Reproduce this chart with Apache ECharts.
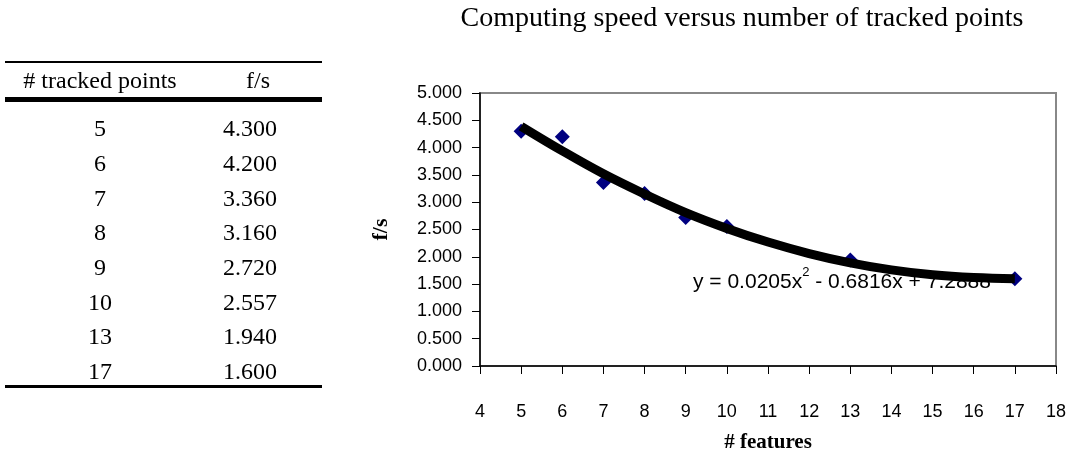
<!DOCTYPE html>
<html>
<head>
<meta charset="utf-8">
<script src="https://cdn.jsdelivr.net/npm/echarts@6/dist/echarts.min.js"></script>
<style>
html,body{margin:0;padding:0;background:#fff;}
#chart{width:1077px;height:454px;}
</style>
</head>
<body>
<div id="chart"></div>
<script>
// ---- data ----
var trackedPoints = [5, 6, 7, 8, 9, 10, 13, 17];
var fps = [4.300, 4.200, 3.360, 3.160, 2.720, 2.557, 1.940, 1.600];
var fpsText = ['4.300', '4.200', '3.360', '3.160', '2.720', '2.557', '1.940', '1.600'];
var tableHeader = ['# tracked points', 'f/s'];
// trendline values at integer x
var trendX = [5, 6, 7, 8, 9, 10, 11, 12, 13, 14, 15, 16, 17];
var trendY = [4.39, 3.94, 3.52, 3.15, 2.81, 2.52, 2.27, 2.06, 1.89, 1.76, 1.67, 1.62, 1.60];
var titleText = 'Computing speed versus number of tracked points';
var xName = '# features';
var yName = 'f/s';
var eqMain1 = 'y = 0.0205x';
var eqSup = '2';
var eqMain2 = ' - 0.6816x + 7.2888';

var chart = echarts.init(document.getElementById('chart'), null, {renderer: 'canvas'});

var serif = '"Liberation Serif", "DejaVu Serif", serif';
var sans = '"Liberation Sans", Arial, sans-serif';

// table graphics
var tableLeft = 5, tableRight = 322;
var col1 = 100, col2 = 250;
var rowTop = 130, rowStep = 34.7;
var g = [];
g.push({type: 'rect', shape: {x: tableLeft, y: 61, width: tableRight - tableLeft, height: 2}, style: {fill: '#000'}});
g.push({type: 'rect', shape: {x: tableLeft, y: 97, width: tableRight - tableLeft, height: 5}, style: {fill: '#000'}});
g.push({type: 'text', x: col1, y: 82, style: {text: tableHeader[0], font: '24px ' + serif, fill: '#000', align: 'center', verticalAlign: 'middle'}});
g.push({type: 'text', x: col2 + 8, y: 82, style: {text: tableHeader[1], font: '24px ' + serif, fill: '#000', align: 'center', verticalAlign: 'middle'}});
for (var i = 0; i < trackedPoints.length; i++) {
  var yy = rowTop + rowStep * i;
  g.push({type: 'text', x: col1, y: yy, style: {text: String(trackedPoints[i]), font: '24px ' + serif, fill: '#000', align: 'center', verticalAlign: 'middle'}});
  g.push({type: 'text', x: col2, y: yy, style: {text: fpsText[i], font: '24px ' + serif, fill: '#000', align: 'center', verticalAlign: 'middle'}});
}
g.push({type: 'rect', shape: {x: tableLeft, y: 385, width: tableRight - tableLeft, height: 3}, style: {fill: '#000'}});
// equation label (below trendline)
g.push({
  type: 'text', left: 693, top: 266, z: 1,
  style: {
    text: '{a|' + eqMain1 + '}{s|' + eqSup + '}{a|' + eqMain2 + '}',
    rich: {
      a: {font: '21px ' + sans, fill: '#000', verticalAlign: 'bottom', lineHeight: 27},
      s: {font: '13px ' + sans, fill: '#000', verticalAlign: 'top', lineHeight: 27}
    }
  }
});

var scatterData = trackedPoints.map(function (x, i) { return [x, fps[i]]; });
var trendData = trendX.map(function (x, i) { return [x, trendY[i]]; });

chart.setOption({
  animation: false,
  title: {
    text: titleText, left: 737, top: 0, textAlign: 'center',
    textStyle: {fontFamily: serif, fontWeight: 'normal', fontSize: 28, color: '#000'}
  },
  grid: {left: 480, right: 21, top: 93, bottom: 88, show: true, borderColor: '#888', borderWidth: 2, backgroundColor: '#fff',
         containLabel: false, outerBoundsMode: 'none'},
  xAxis: {
    type: 'value', min: 4, max: 18, interval: 1,
    name: xName, nameLocation: 'middle', nameGap: 66,
    nameTextStyle: {fontFamily: serif, fontWeight: 'bold', fontSize: 21, color: '#000'},
    axisLine: {show: true, onZero: false, lineStyle: {color: '#000', width: 1.5}},
    axisTick: {show: true, length: 8, lineStyle: {color: '#000'}},
    axisLabel: {margin: 37, fontFamily: sans, fontSize: 18, color: '#000'},
    splitLine: {show: false}
  },
  yAxis: {
    type: 'value', min: 0, max: 5, interval: 0.5,
    name: yName, nameLocation: 'middle', nameGap: 88, nameRotate: 90,
    nameTextStyle: {fontFamily: serif, fontWeight: 'bold', fontSize: 22, color: '#000'},
    axisLine: {show: true, onZero: false, lineStyle: {color: '#000', width: 1.5}},
    axisTick: {show: true, length: 8, lineStyle: {color: '#000'}},
    axisLabel: {margin: 18, fontFamily: sans, fontSize: 18, color: '#000', formatter: function (v) { return v.toFixed(3); }},
    splitLine: {show: false}
  },
  graphic: g,
  series: [
    {
      type: 'scatter', data: scatterData, symbol: 'diamond', symbolSize: 15, z: 3,
      itemStyle: {color: '#000080', opacity: 1}
    },
    {
      type: 'line', data: trendData, smooth: 0.4, showSymbol: false, symbol: 'none', z: 5,
      lineStyle: {color: '#000', width: 9}
    }
  ]
});
</script>
</body>
</html>
